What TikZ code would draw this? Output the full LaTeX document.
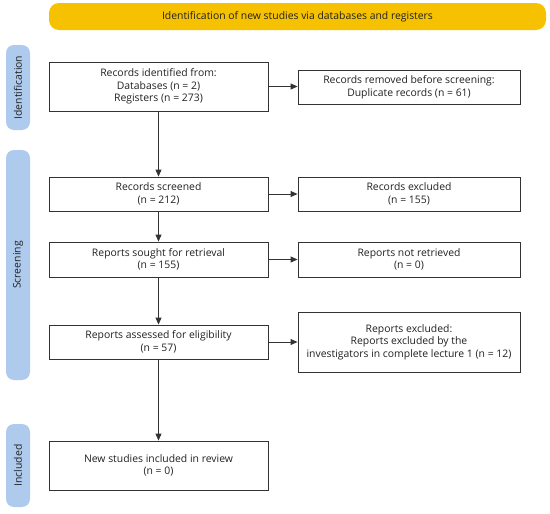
\documentclass[tikz,border=0pt]{standalone}
\usepackage{fontspec}
\setmainfont{Open Sans}
\usetikzlibrary{arrows.meta}
\definecolor{banner}{HTML}{F6C100}
\definecolor{side}{HTML}{AECBEE}
\definecolor{edge}{HTML}{333333}
\definecolor{txt}{HTML}{222222}
\tikzset{
  box/.style={draw=edge, line width=0.9pt, fill=white, align=center, inner sep=2pt,
    text=txt, font=\fontsize{10.4}{12.6}\selectfont},
  sidelabel/.style={fill=side, rounded corners=8pt, minimum width=24pt, align=center,
    text=txt, font=\fontsize{10.4}{12}\selectfont, text depth=0pt, inner sep=0pt},
  arr/.style={line width=0.9pt, draw=edge, -{Triangle[length=7pt,width=6pt]}},
}
\begin{document}
\begin{tikzpicture}[x=1pt,y=-1pt]
\useasboundingbox (0,0) rectangle (550,514);
% banner
\node[fill=banner, rounded corners=10pt, minimum width=497pt, minimum height=27pt,
  text=txt, font=\fontsize{10.4}{12}\selectfont] (banner) at (297.5,16.5) {Identification of new studies via databases and registers};
% side labels
\node[sidelabel, minimum height=85pt] (sid) at (18,87.5) {\rotatebox{90}{\hbox to 85pt{\hss Identification\hss}}};
\node[sidelabel, minimum height=230pt] (sscr) at (18,265) {\rotatebox{90}{\hbox to 230pt{\hss Screening\hss}}};
\node[sidelabel, minimum height=83pt] (sinc) at (18,465.5) {\rotatebox{90}{\hbox to 83pt{\hss Included\hss}}};
% left boxes
\node[box, minimum width=219pt, minimum height=49pt] (ident) at (158.5,86.5) {Records identified from:\\Databases (n = 2)\\Registers (n = 273)};
\node[box, minimum width=219pt, minimum height=34pt] (screen) at (158.5,194) {Records screened\\(n = 212)};
\node[box, minimum width=219pt, minimum height=35pt] (sought) at (158.5,259.5) {Reports sought for retrieval\\(n = 155)};
\node[box, minimum width=219pt, minimum height=34pt] (assess) at (158.5,342) {Reports assessed for eligibility\\(n = 57)};
\node[box, minimum width=219pt, minimum height=49pt] (incl) at (158.5,465.5) {New studies included in review\\(n = 0)};
% right boxes
\node[box, minimum width=222pt, minimum height=34pt] (removed) at (409,87) {Records removed before screening:\\Duplicate records (n = 61)};
\node[box, minimum width=222pt, minimum height=34pt] (excl) at (409,194) {Records excluded\\(n = 155)};
\node[box, minimum width=222pt, minimum height=35pt] (notret) at (409,259.5) {Reports not retrieved\\(n = 0)};
\node[box, minimum width=222pt, minimum height=60pt] (repexcl) at (409,342) {Reports excluded:\\Reports excluded by the\\investigators in complete lecture 1 (n = 12)};
% vertical arrows
\draw[arr] (ident.south) -- (screen.north);
\draw[arr] (screen.south) -- (sought.north);
\draw[arr] (sought.south) -- (assess.north);
\draw[arr] (assess.south) -- (incl.north);
% horizontal arrows
\draw[arr] (ident.east) -- (ident.east -| removed.west);
\draw[arr] (screen.east) -- (excl.west);
\draw[arr] (sought.east) -- (notret.west);
\draw[arr] (assess.east) -- (repexcl.west);
\end{tikzpicture}
\end{document}
